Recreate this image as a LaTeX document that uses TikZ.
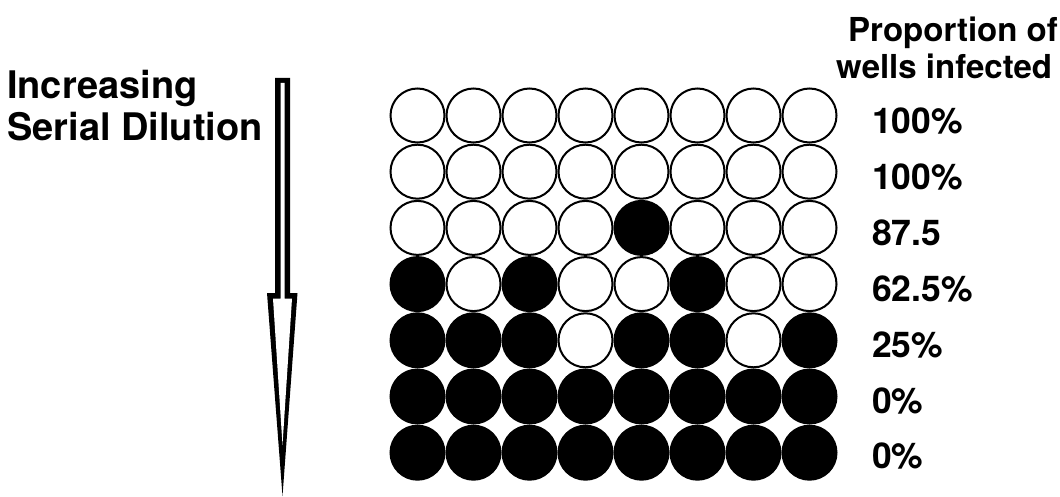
\documentclass[tikz,border=0pt]{standalone}
\usepackage{fontspec}
\setmainfont{TeX Gyre Heros}
\begin{document}
\begin{tikzpicture}[x=1pt,y=-1pt,
  well/.style={circle,draw=black,line width=2pt,minimum size=54pt,inner sep=0pt},
  wellinf/.style={well,fill=black},
  wellclear/.style={well,fill=white},
  lab/.style={anchor=base west,inner sep=0pt,font=\fontsize{35.5}{40}\selectfont\bfseries},
  head/.style={anchor=base west,inner sep=0pt,font=\fontsize{33}{38}\selectfont\bfseries},
  title/.style={anchor=base west,inner sep=0pt,font=\fontsize{38}{42}\selectfont\bfseries}]
\useasboundingbox (0,0) rectangle (1060,497);
% arrow
\fill[black] (275,78) -- (290,78) -- (290,293) -- (297.5,293) -- (282.5,496) -- (267,293) -- (275,293) -- cycle;
\fill[white] (280.5,83) -- (284.5,83) -- (284.5,298.5) -- (292,298.5) -- (282.5,445) -- (273,298.5) -- (280.5,298.5) -- cycle;
% text
\node[title] (t1) at (7,99) {Increasing};
\node[title] (t2) at (7,141) {Serial Dilution};
\node[head] (h1) at (848,42) {Proportion of};
\node[head] (h2) at (836,79) {wells infected};
% wells
\foreach \r/\pat in {1/{0,0,0,0,0,0,0,0},2/{0,0,0,0,0,0,0,0},3/{0,0,0,0,1,0,0,0},4/{1,0,1,0,0,1,0,0},5/{1,1,1,0,1,1,0,1},6/{1,1,1,1,1,1,1,1},7/{1,1,1,1,1,1,1,1}}{
  \foreach \bit [count=\c] in \pat {
    \ifnum\bit=1
      \node[wellinf] (w-\r-\c) at ({417.5+56*(\c-1)},{115.5+56.2*(\r-1)}) {};
    \else
      \node[wellclear] (w-\r-\c) at ({417.5+56*(\c-1)},{115.5+56.2*(\r-1)}) {};
    \fi
  }
}
% labels
\foreach \r/\t in {1/100\%,2/100\%,3/87.5,4/62.5\%,5/25\%,6/0\%,7/0\%}{
  \node[lab] (l-\r) at (872,{134+55.8*(\r-1)}) {\t};
}
\end{tikzpicture}
\end{document}
